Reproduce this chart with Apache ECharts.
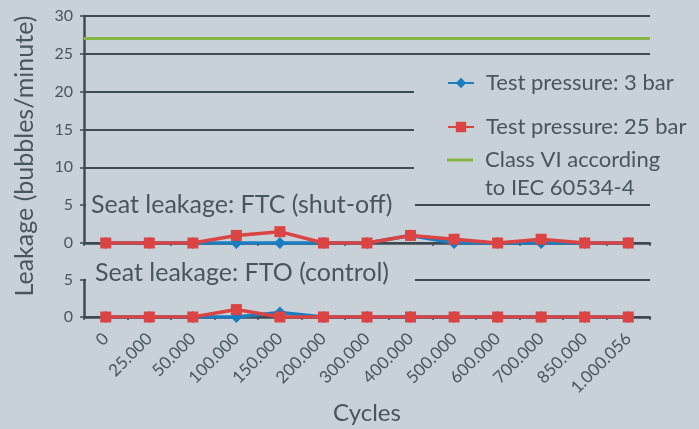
<!DOCTYPE html>
<html>
<head>
<meta charset="utf-8">
<script src="https://cdn.jsdelivr.net/npm/echarts@6/dist/echarts.min.js"></script>
<style>
  html, body { margin: 0; padding: 0; background: #c9d1d8; }
  #chart { width: 699px; height: 429px; }
</style>
</head>
<body>
<div id="chart"></div>
<script>
// data
const cycles = ['0', '25.000', '50.000', '100.000', '150.000', '200.000', '300.000',
    '400.000', '500.000', '600.000', '700.000', '850.000', '1.000.056'];
const ftc3bar = [0, 0, 0, 0, 0, 0, 0, 1, 0, 0, 0, 0, 0];
const ftc25bar = [0, 0, 0, 1, 1.5, 0, 0, 1, 0.5, 0, 0.5, 0, 0];
const fto3bar = [0, 0, 0, 0, 0.6, 0, 0, 0, 0, 0, 0, 0, 0];
const fto25bar = [0, 0, 0, 1, 0, 0, 0, 0, 0, 0, 0, 0, 0];
const classVI = 27;
const topTicks = [0, 30, 5];   // min, max, interval
const bottomTicks = [0, 5, 5];

const names = {
    p3: 'Test pressure: 3 bar',
    p25: 'Test pressure: 25 bar',
    cls: 'Class VI according\nto IEC 60534-4'
};

const bg = '#c9d1d8';
const ink = '#48555d';
const axisInk = '#3e4a52';
const blue = '#1a7dc1';
const red = '#dc4343';
const green = '#84b545';
const font = 'Lato, "Open Sans", sans-serif';

const chart = echarts.init(document.getElementById('chart'));

function xAxis(gridIndex, showLabels) {
    return {
        type: 'category', gridIndex: gridIndex, data: cycles, boundaryGap: true,
        axisLine: { lineStyle: { color: axisInk, width: 2.5 } },
        axisTick: { show: true, length: 3, lineStyle: { color: axisInk, width: 1.5 } },
        axisLabel: showLabels ? {
            rotate: 45, color: ink, fontSize: 17, fontFamily: font, margin: 19, interval: 0,
            padding: [28, 0, 0, 0]
        } : { show: false },
        name: showLabels ? 'Cycles' : '',
        nameLocation: 'middle', nameGap: 84,
        nameTextStyle: { color: ink, fontSize: 24, fontFamily: font }
    };
}

function yAxis(gridIndex, t) {
    return {
        type: 'value', gridIndex: gridIndex, min: t[0], max: t[1], interval: t[2],
        axisLine: { show: true, lineStyle: { color: axisInk, width: 2.5 } },
        axisTick: { show: true, length: 4, lineStyle: { color: axisInk, width: 1.5 } },
        axisLabel: { color: ink, fontSize: 16, fontFamily: font, margin: 11 },
        splitLine: { lineStyle: { color: axisInk, width: 2 } }
    };
}

function lineSeries(name, data, color, symbol, idx) {
    return {
        name: name, type: 'line', data: data,
        xAxisIndex: idx, yAxisIndex: idx,
        symbol: symbol, symbolSize: symbol === 'diamond' ? 12 : 11,
        color: color,
        lineStyle: { color: color, width: 3.5 },
        itemStyle: { color: color },
        z: symbol === 'rect' ? 3 : 2
    };
}

const legendText = { color: ink, fontSize: 22, fontFamily: font, lineHeight: 28, padding: [0, 0, 0, 7] };

chart.setOption({
    backgroundColor: bg,
    animation: false,
    grid: [
        { left: 84, right: 49, top: 16, height: 227 },
        { left: 84, right: 49, top: 280, height: 37 }
    ],
    xAxis: [xAxis(0, false), xAxis(1, true)],
    yAxis: [yAxis(0, topTicks), yAxis(1, bottomTicks)],
    title: [
        { text: 'Seat leakage: FTC (shut-off)', left: 91, top: 192, padding: 0,
          textStyle: { color: ink, fontSize: 25, fontWeight: 'normal', fontFamily: font } },
        { text: 'Seat leakage: FTO (control)', left: 95, top: 260, padding: 0,
          textStyle: { color: ink, fontSize: 25, fontWeight: 'normal', fontFamily: font } }
    ],
    legend: [
        {
            orient: 'vertical', left: 447, top: 69, padding: 0, itemGap: 16,
            itemWidth: 26, itemHeight: 13,
            data: [names.p3, names.p25],
            textStyle: legendText
        },
        {
            orient: 'vertical', left: 447, top: 118, padding: 0,
            itemWidth: 26, itemHeight: 3, icon: 'rect',
            data: [names.cls],
            // leading blank line keeps the icon level with the first text line
            formatter: function (name) { return '\n' + name; },
            textStyle: legendText
        }
    ],
    graphic: [
        // blank patches where the reference hides the gridlines
        { type: 'rect', z: 1, shape: { x: 414, y: 62, width: 240, height: 136 }, style: { fill: bg } },
        { type: 'rect', z: 1, shape: { x: 86, y: 200, width: 329, height: 12 }, style: { fill: bg } },
        { type: 'rect', z: 1, shape: { x: 86, y: 274, width: 329, height: 12 }, style: { fill: bg } },
        {
            type: 'text', x: 25, y: 156, rotation: Math.PI / 2,
            style: { text: 'Leakage (bubbles/minute)', fill: ink, fontSize: 25, fontFamily: font,
                     align: 'center', verticalAlign: 'middle' }
        }
    ],
    series: [
        {
            name: names.cls, type: 'line', data: [], xAxisIndex: 0, yAxisIndex: 0,
            symbol: 'none', color: green, lineStyle: { color: green, width: 3 },
            markLine: {
                silent: true, symbol: 'none', label: { show: false },
                lineStyle: { color: green, width: 3, type: 'solid' },
                data: [{ yAxis: classVI }]
            }
        },
        lineSeries(names.p3, ftc3bar, blue, 'diamond', 0),
        lineSeries(names.p25, ftc25bar, red, 'rect', 0),
        lineSeries(names.p3, fto3bar, blue, 'diamond', 1),
        lineSeries(names.p25, fto25bar, red, 'rect', 1)
    ]
});
</script>
</body>
</html>
